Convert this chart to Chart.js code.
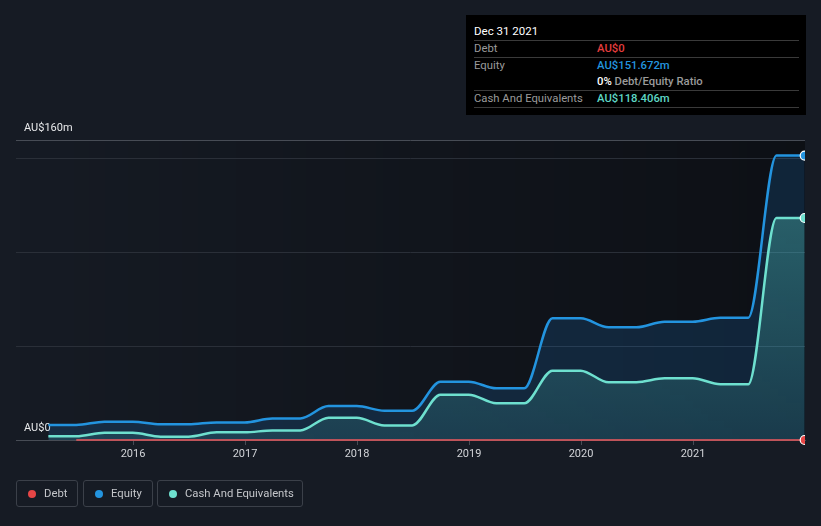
<!DOCTYPE html>
<html>
<head>
<meta charset="utf-8">
<script src="https://cdn.jsdelivr.net/npm/chart.js@4"></script>
<style>
  body{margin:0;background:#161b24;font-family:Roboto,"Noto Sans",sans-serif;}
  #wrap{position:relative;width:821px;height:526px;overflow:hidden;}
  #chart{position:absolute;left:0;top:0;}
  .tip{position:absolute;left:466px;top:15px;width:340px;height:100px;background:#000;}
  .tip div{position:absolute;font-size:11.3px;line-height:14px;white-space:nowrap;}
  .tip .sep{height:1px;background:#3a3a3a;left:8px;width:325px;}
  .lbl{color:#9b9b9b;left:8px;}
  .val{left:131px;font-weight:500;}
  .legend{position:absolute;top:480px;height:27px;border:1px solid #3b4049;border-radius:3px;box-sizing:border-box;color:#c4c6ca;font-size:11.3px;line-height:25px;}
  .legend span{position:absolute;top:9px;left:11px;width:8px;height:8px;border-radius:50%;}
  .legend b{position:absolute;left:27px;font-weight:400;}
</style>
</head>
<body>
<div id="wrap">
  <canvas id="chart" width="821" height="526"></canvas>

  <div class="tip">
    <div style="left:8px;top:9px;color:#fff;font-size:11.5px;">Dec 31 2021</div>
    <div class="sep" style="top:25px"></div>
    <div class="lbl" style="top:27px">Debt</div>
    <div class="val" style="top:27px;color:#e43d3d">AU$0</div>
    <div class="sep" style="top:42px"></div>
    <div class="lbl" style="top:44px">Equity</div>
    <div class="val" style="top:44px;color:#2394df">AU$151.672m</div>
    <div class="val" style="top:60px;color:#9b9b9b"><span style="color:#fff">0%</span> Debt/Equity Ratio</div>
    <div class="sep" style="top:75px"></div>
    <div class="lbl" style="top:77px">Cash And Equivalents</div>
    <div class="val" style="top:77px;color:#5ed7c5">AU$118.406m</div>
    <div class="sep" style="top:92px"></div>
  </div>

  <div class="legend" style="left:16px;width:62px"><span style="background:#e64646"></span><b>Debt</b></div>
  <div class="legend" style="left:83px;width:70px"><span style="background:#2394df"></span><b>Equity</b></div>
  <div class="legend" style="left:157px;width:146px"><span style="background:#6ee0cf"></span><b>Cash And Equivalents</b></div>
</div>

<script>
// quarter ends, Mar 2015 .. Dec 2021
const quarters = [
  "2015-03-31","2015-06-30","2015-09-30","2015-12-31",
  "2016-03-31","2016-06-30","2016-09-30","2016-12-31",
  "2017-03-31","2017-06-30","2017-09-30","2017-12-31",
  "2018-03-31","2018-06-30","2018-09-30","2018-12-31",
  "2019-03-31","2019-06-30","2019-09-30","2019-12-31",
  "2020-03-31","2020-06-30","2020-09-30","2020-12-31",
  "2021-03-31","2021-06-30","2021-09-30","2021-12-31"
];
// AU$ millions
const equity = [8.0,8.0,9.8,9.8, 8.4,8.4,9.4,9.4, 11.5,11.5,18.1,18.1, 15.6,15.6,31.1,31.1,
                27.6,27.6,64.9,64.9, 60.1,60.1,63.1,63.1, 65.2,65.2,151.672,151.672];
const cash   = [2.0,2.0,3.9,3.9, 1.8,1.8,4.1,4.1, 5.1,5.1,11.9,11.9, 7.8,7.8,24.2,24.2,
                19.6,19.6,37.0,37.0, 30.8,30.8,32.9,32.9, 29.7,29.7,118.406,118.406];
const debt   = [null,0,0,0, 0,0,0,0, 0,0,0,0, 0,0,0,0, 0,0,0,0, 0,0,0,0, 0,0,0,0];

const xTicks = [2016,2017,2018,2019,2020,2021];
const yTicks = [0,50,100,150,160];
const yTickText = ["AU$0","","","","AU$160m"];

function toYear(s){
  const d = new Date(s + "T00:00:00Z");
  const y = d.getUTCFullYear();
  const start = Date.UTC(y,0,1), end = Date.UTC(y+1,0,1);
  return y + (d - start) / (end - start);
}
const xs = quarters.map(toYear);
const pts = arr => arr.map((v,i)=>({x: xs[i], y: v}));

const lastDot = ctx => ctx.dataIndex === quarters.length - 1 ? 4.5 : 0;

const areaBg = {
  id: "areaBg",
  beforeDraw(chart){
    const {ctx, chartArea:a} = chart;
    const g = ctx.createLinearGradient(a.left,0,a.right,0);
    g.addColorStop(0,"rgba(0,0,0,0)");
    g.addColorStop(1,"rgba(0,0,0,0.4)");
    ctx.save();
    ctx.fillStyle = g;
    ctx.fillRect(a.left,a.top,a.right-a.left,a.bottom-a.top);
    ctx.restore();
  }
};

function cashFill(context){
  const {ctx, chartArea:a} = context.chart;
  if(!a) return "rgba(80,200,190,0.25)";
  const g = ctx.createLinearGradient(0,a.top+60,0,a.bottom);
  g.addColorStop(0,"rgba(85,205,195,0.36)");
  g.addColorStop(1,"rgba(85,205,195,0.13)");
  return g;
}

new Chart(document.getElementById("chart"), {
  type: "line",
  data: {
    datasets: [
      {
        label: "Debt", data: pts(debt),
        borderColor: "rgba(214,86,92,0.85)", borderWidth: 2,
        clip: { left: 0, top: 0, right: 0, bottom: 6 },
        pointRadius: lastDot, pointBackgroundColor: "#e64646",
        pointBorderColor: "#fff", pointBorderWidth: 1.2, fill: false
      },
      {
        label: "Cash And Equivalents", data: pts(cash),
        borderColor: "#6ee0cf", borderWidth: 2.5,
        cubicInterpolationMode: "monotone",
        backgroundColor: cashFill, fill: "origin",
        pointRadius: lastDot, pointBackgroundColor: "#6ee0cf",
        pointBorderColor: "#fff", pointBorderWidth: 1.2
      },
      {
        label: "Equity", data: pts(equity),
        borderColor: "#2394df", borderWidth: 2.5,
        cubicInterpolationMode: "monotone",
        backgroundColor: "rgba(30,120,200,0.2)", fill: "origin",
        pointRadius: lastDot, pointBackgroundColor: "#2394df",
        pointBorderColor: "#fff", pointBorderWidth: 1.2
      }
    ]
  },
  options: {
    responsive: false,
    animation: false,
    layout: { padding: { left: 16, right: 16, top: 140, bottom: 0 } },
    plugins: { legend: { display: false }, tooltip: { enabled: false } },
    scales: {
      x: {
        type: "linear", min: 2014.955, max: 2022.0,
        afterBuildTicks: s => { s.ticks = xTicks.map(v => ({value: v})); },
        afterFit: s => { s.height = 86; },
        grid: { drawOnChartArea: false, drawTicks: true, tickLength: 5, color: "#474c55" },
        border: { display: true, color: "#474c55", width: 1 },
        ticks: { color: "#d2d4d8", font: { family: "Roboto", size: 11 }, padding: 3,
                 callback: v => String(v) }
      },
      y: {
        min: 0, max: 160,
        afterBuildTicks: s => { s.ticks = yTicks.map(v => ({value: v})); },
        afterFit: s => { s.width = 0; },
        grid: {
          drawTicks: false,
          color: c => c.tick.value === 160 ? "#474c55" : (c.tick.value === 0 ? "rgba(0,0,0,0)" : "#2a2f38")
        },
        border: { display: false },
        ticks: {
          mirror: true, padding: 8, labelOffset: -12, autoSkip: false,
          color: "#e8e9eb", font: { family: "Roboto", size: 11 },
          callback: (v) => yTickText[yTicks.indexOf(v)]
        }
      }
    }
  },
  plugins: [areaBg]
});
</script>
</body>
</html>
